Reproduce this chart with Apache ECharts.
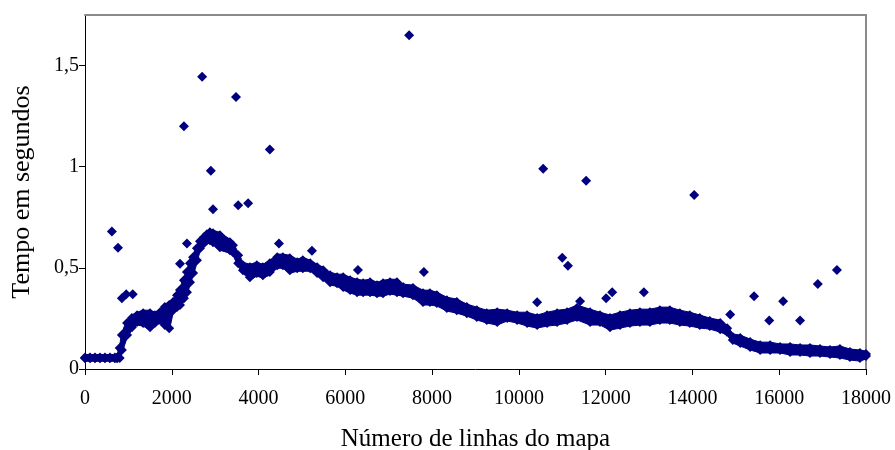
<!DOCTYPE html>
<html>
<head>
<meta charset="utf-8">
<script src="https://cdn.jsdelivr.net/npm/echarts@6/dist/echarts.min.js"></script>
<style>html,body{margin:0;padding:0;background:#fff;}#c{width:895px;height:450px;}</style>
</head>
<body>
<div id="c"></div>
<script>
// Band of the dense series: x (number of map lines), upper and lower edges (seconds)
const bandX = [0,115,230,345,460,575,690,740,800,850,970,1080,1200,1340,1500,1610,1730,1840,1940,2030,2120,2190,2280,2350,2420,2490,2580,2650,2740,2810,2880,2950,3110,3340,3410,3530,3640,3800,3960,4100,4260,4430,4560,4720,4890,5020,5190,5350,5490,5650,5810,5950,6110,6270,6410,6570,6730,6870,7030,7190,7330,7560,7790,7950,8110,8340,8570,8800,9030,9260,9500,9730,9960,10190,10420,10650,10880,11110,11340,11640,11870,12100,12330,12560,12790,13020,13250,13480,13710,13940,14170,14400,14640,14800,14930,15100,15330,15560,15790,16020,16250,16480,16710,16940,17170,17400,17630,17860,18000];
const bandHigh = [0.057,0.057,0.057,0.057,0.057,0.057,0.057,0.057,0.104,0.168,0.227,0.252,0.266,0.276,0.276,0.266,0.281,0.306,0.316,0.331,0.365,0.390,0.439,0.479,0.523,0.553,0.597,0.631,0.651,0.666,0.676,0.671,0.661,0.627,0.612,0.562,0.513,0.503,0.513,0.503,0.523,0.553,0.553,0.548,0.528,0.538,0.523,0.503,0.488,0.464,0.454,0.454,0.439,0.429,0.424,0.429,0.414,0.424,0.429,0.429,0.405,0.400,0.375,0.375,0.365,0.340,0.331,0.306,0.291,0.276,0.281,0.276,0.266,0.266,0.252,0.266,0.276,0.281,0.301,0.281,0.266,0.252,0.266,0.276,0.281,0.281,0.291,0.291,0.276,0.266,0.252,0.237,0.227,0.202,0.158,0.153,0.133,0.118,0.118,0.109,0.109,0.104,0.104,0.099,0.094,0.099,0.084,0.079,0.074];
const bandLow = [0.053,0.053,0.053,0.053,0.053,0.053,0.053,0.053,0.054,0.094,0.168,0.207,0.232,0.227,0.207,0.227,0.242,0.217,0.202,0.291,0.306,0.316,0.350,0.380,0.429,0.474,0.538,0.597,0.622,0.636,0.636,0.627,0.602,0.587,0.577,0.523,0.488,0.454,0.474,0.464,0.479,0.513,0.513,0.488,0.498,0.498,0.498,0.474,0.454,0.429,0.424,0.405,0.390,0.380,0.380,0.380,0.375,0.375,0.385,0.380,0.375,0.365,0.331,0.331,0.326,0.301,0.291,0.276,0.257,0.242,0.232,0.252,0.242,0.227,0.217,0.227,0.232,0.242,0.257,0.232,0.232,0.207,0.217,0.227,0.232,0.232,0.242,0.242,0.232,0.227,0.217,0.212,0.197,0.183,0.143,0.128,0.109,0.094,0.094,0.094,0.084,0.084,0.079,0.079,0.074,0.069,0.059,0.054,0.064];
// Isolated points away from the band
const outX = [620,760,850,950,1100,2190,2280,2350,2700,2900,2950,3480,3530,3760,4260,4470,5230,6290,7470,7810,10420,10560,11000,11130,11410,11550,12010,12150,12880,14040,14870,15420,15770,16090,16480,16890,17330];
const outY = [0.68,0.60,0.35,0.37,0.37,0.52,1.20,0.62,1.445,0.98,0.79,1.345,0.81,0.82,1.085,0.62,0.585,0.49,1.65,0.48,0.33,0.99,0.55,0.51,0.335,0.93,0.35,0.38,0.38,0.86,0.27,0.36,0.24,0.335,0.24,0.42,0.49];
const xTicks = [0,2000,4000,6000,8000,10000,12000,14000,16000,18000];
const yTicks = [0,0.5,1,1.5];

const navy = '#000080';
const font = 'Liberation Serif';
const pad = 3; // pixel padding of the band fill (drawn under the diamonds)
const diamond = {type:'scatter',symbol:'diamond',symbolSize:10,itemStyle:{color:navy,opacity:1},z:3,silent:true};
const chart = echarts.init(document.getElementById('c'), null, {renderer:'canvas'});
chart.setOption({
  animation:false,
  backgroundColor:'#fff',
  grid:{left:85,right:29,top:15,bottom:81,containLabel:false,outerBoundsMode:'none'},
  xAxis:[{
    type:'value',min:0,max:18000,interval:2000,
    name:'Número de linhas do mapa',nameLocation:'middle',nameGap:58,
    nameTextStyle:{fontFamily:font,fontSize:25,color:'#000'},
    axisLine:{show:true,onZero:false,lineStyle:{color:'#000',width:1}},
    axisTick:{show:true,inside:false,length:6,lineStyle:{color:'#000'}},
    axisLabel:{fontFamily:font,fontSize:20,color:'#000',margin:20,formatter:v=>xTicks.indexOf(v)>=0?String(v):''},
    splitLine:{show:false}
  },{
    type:'value',position:'top',min:0,max:18000,
    axisLine:{show:true,onZero:false,lineStyle:{color:'#8a8a8a',width:2}},
    axisTick:{show:false},axisLabel:{show:false},splitLine:{show:false}
  }],
  yAxis:[{
    type:'value',min:0,max:1.75,interval:0.25,
    name:'Tempo em segundos',nameLocation:'middle',nameGap:50,nameRotate:90,
    nameTextStyle:{fontFamily:font,fontSize:26,color:'#000'},
    axisLine:{show:true,onZero:false,lineStyle:{color:'#000',width:1}},
    axisTick:{show:true,inside:false,length:6,lineStyle:{color:'#000'},customValues:yTicks},
    axisLabel:{fontFamily:font,fontSize:20,color:'#000',margin:6,customValues:yTicks,
      formatter:v=>String(v).replace('.',',')},
    splitLine:{show:false}
  },{
    type:'value',position:'right',min:0,max:1.75,
    axisLine:{show:true,onZero:false,lineStyle:{color:'#8a8a8a',width:2}},
    axisTick:{show:false},axisLabel:{show:false},splitLine:{show:false}
  }],
  series:[
    {type:'custom',silent:true,z:1,
     data:bandX.map((x,i)=>[x,bandLow[i],bandHigh[i]]),
     renderItem:function(params,api){
       const i = params.dataIndex;
       if (i >= bandX.length-1) return null;
       const a = api.coord([bandX[i],bandLow[i]]);
       const b = api.coord([bandX[i+1],bandLow[i+1]]);
       const c = api.coord([bandX[i+1],bandHigh[i+1]]);
       const d = api.coord([bandX[i],bandHigh[i]]);
       return {type:'polygon',shape:{points:[[a[0],a[1]+pad],[b[0],b[1]+pad],[c[0],c[1]-pad],[d[0],d[1]-pad]]},
               style:{fill:navy,stroke:navy,lineWidth:1}};
     }},
    Object.assign({}, diamond, {data:bandX.map((x,i)=>[x,bandHigh[i]])}),
    Object.assign({}, diamond, {data:bandX.map((x,i)=>[x,bandLow[i]])}),
    Object.assign({}, diamond, {data:outX.map((x,i)=>[x,outY[i]])})
  ]
});
</script>
</body>
</html>
